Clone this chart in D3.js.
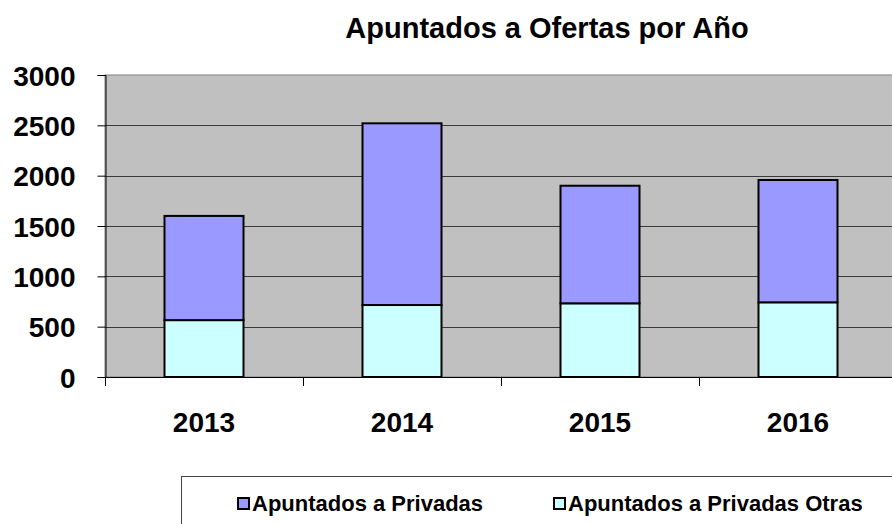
<!DOCTYPE html>
<html>
<head>
<meta charset="utf-8">
<script src="https://cdn.jsdelivr.net/npm/d3@7"></script>
<style>
  body { margin: 0; background: #fff; }
  svg { display: block; font-family: "Liberation Sans", Arial, sans-serif; font-weight: bold; }
</style>
</head>
<body>
<div id="chart"></div>
<script>
var years = ["2013", "2014", "2015", "2016"];
var privadas = [1035, 1805, 1168, 1215];
var privadasOtras = [565, 715, 732, 742];
var yTicks = [0, 500, 1000, 1500, 2000, 2500, 3000];
var seriesNames = ["Apuntados a Privadas", "Apuntados a Privadas Otras"];
var seriesColors = ["#9999FF", "#CCFFFF"];

var W = 892, H = 524;
var plot = { left: 105, top: 75, right: 897, bottom: 377 };

var svg = d3.select("#chart").append("svg")
  .attr("width", W)
  .attr("height", H);

var x = d3.scaleBand()
  .domain(years)
  .range([plot.left, plot.right])
  .paddingInner(0)
  .paddingOuter(0);

var y = d3.scaleLinear()
  .domain([0, 3000])
  .range([plot.bottom, plot.top]);

// plot background
svg.append("rect")
  .attr("x", plot.left)
  .attr("y", plot.top)
  .attr("width", plot.right - plot.left)
  .attr("height", plot.bottom - plot.top)
  .attr("fill", "#C0C0C0")
  .attr("stroke", "#808080")
  .attr("stroke-width", 1);

// horizontal grid
svg.selectAll("line.hgrid")
  .data(yTicks.slice(1, -1))
  .enter()
  .append("line")
  .attr("class", "hgrid")
  .attr("x1", plot.left)
  .attr("x2", plot.right)
  .attr("y1", function (d) { return Math.round(y(d)) + 0.5; })
  .attr("y2", function (d) { return Math.round(y(d)) + 0.5; })
  .attr("stroke", "#3a3a3a")
  .attr("stroke-width", 1);

// stacked bars
var rows = years.map(function (yr, i) {
  return { year: yr, otras: privadasOtras[i], privadas: privadas[i] };
});
var stack = d3.stack().keys(["otras", "privadas"]);
var layers = stack(rows);
var barW = 79;

svg.selectAll("g.layer")
  .data(layers)
  .enter()
  .append("g")
  .attr("class", "layer")
  .attr("fill", function (d) { return d.key === "privadas" ? seriesColors[0] : seriesColors[1]; })
  .selectAll("rect")
  .data(function (d) { return d; })
  .enter()
  .append("rect")
  .attr("x", function (d) { return x(d.data.year) + x.bandwidth() / 2 - barW / 2; })
  .attr("y", function (d) { return y(d[1]); })
  .attr("width", barW)
  .attr("height", function (d) { return y(d[0]) - y(d[1]); })
  .attr("stroke", "#000")
  .attr("stroke-width", 2);

// y axis
var yAxis = svg.append("g")
  .attr("transform", "translate(" + (plot.left + 0.5) + ",0)")
  .call(d3.axisLeft(y).tickValues(yTicks).tickSize(8).tickPadding(22).tickFormat(d3.format("d")));
yAxis.select(".domain").attr("stroke", "#000");
yAxis.selectAll(".tick line").attr("stroke", "#000");
yAxis.selectAll("text")
  .attr("font-size", 28)
  .attr("font-family", "Liberation Sans, Arial, sans-serif")
  .attr("font-weight", "bold")
  .attr("fill", "#000")
  .attr("dy", "0.36em");

// x axis line and band-edge ticks
svg.append("line")
  .attr("x1", plot.left)
  .attr("x2", plot.right)
  .attr("y1", plot.bottom + 0.5)
  .attr("y2", plot.bottom + 0.5)
  .attr("stroke", "#000");

var edges = years.map(function (d) { return x(d); }).concat([plot.right]);
svg.selectAll("line.xtick")
  .data(edges)
  .enter()
  .append("line")
  .attr("class", "xtick")
  .attr("x1", function (d) { return Math.round(d) + 0.5; })
  .attr("x2", function (d) { return Math.round(d) + 0.5; })
  .attr("y1", plot.bottom)
  .attr("y2", plot.bottom + 9)
  .attr("stroke", "#000");

svg.selectAll("text.xlabel")
  .data(years)
  .enter()
  .append("text")
  .attr("class", "xlabel")
  .attr("x", function (d) { return x(d) + x.bandwidth() / 2; })
  .attr("y", 432)
  .attr("text-anchor", "middle")
  .attr("font-size", 28)
  .text(function (d) { return d; });

// title
svg.append("text")
  .attr("x", 547)
  .attr("y", 38)
  .attr("text-anchor", "middle")
  .attr("font-size", 29)
  .text("Apuntados a Ofertas por Año");

// legend
svg.append("rect")
  .attr("x", 181.5)
  .attr("y", 476.5)
  .attr("width", 760)
  .attr("height", 100)
  .attr("fill", "#fff")
  .attr("stroke", "#444");

var legendX = [237, 553];
var legend = svg.selectAll("g.legend")
  .data(seriesNames)
  .enter()
  .append("g")
  .attr("class", "legend")
  .attr("transform", function (d, i) { return "translate(" + legendX[i] + ",497)"; });

legend.append("rect")
  .attr("x", 1)
  .attr("y", 1)
  .attr("width", 11)
  .attr("height", 11)
  .attr("fill", function (d, i) { return seriesColors[i]; })
  .attr("stroke", "#000")
  .attr("stroke-width", 2);

legend.append("text")
  .attr("x", 15)
  .attr("y", 14)
  .attr("font-size", 22)
  .text(function (d) { return d; });
</script>
</body>
</html>
